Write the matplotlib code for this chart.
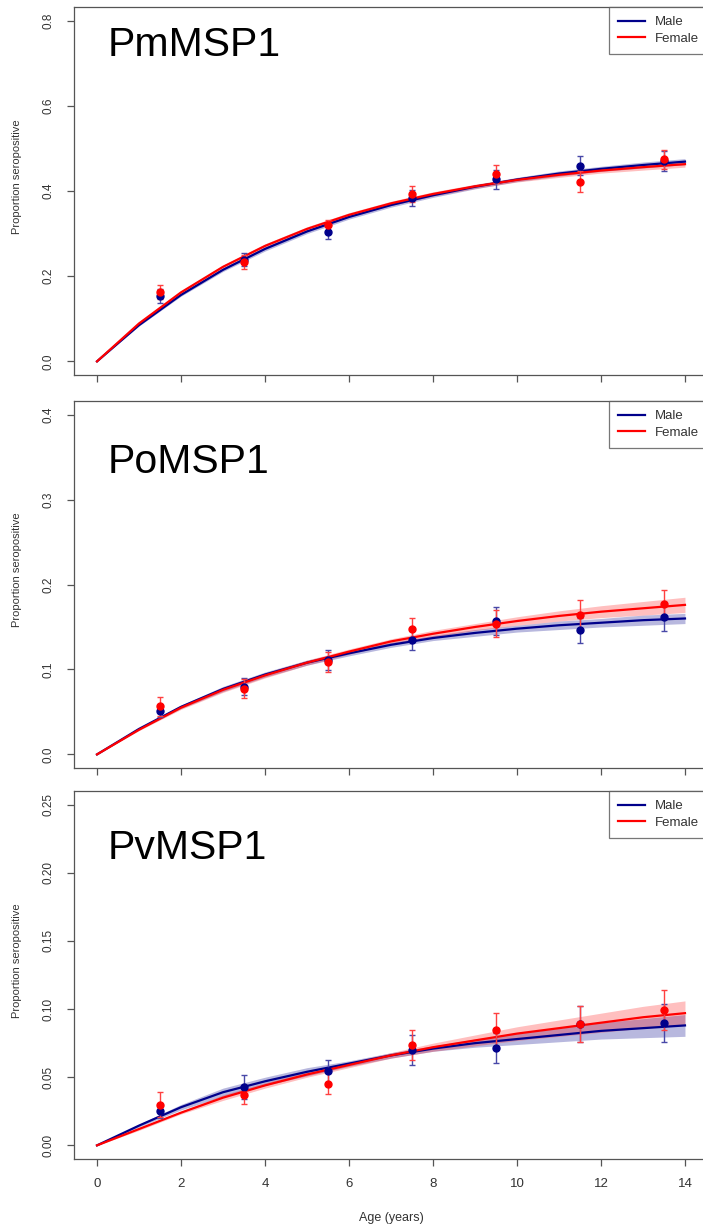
import numpy as np
import matplotlib
matplotlib.use("Agg")
from matplotlib import pyplot as plt

plt.rcParams['font.family'] = ['Liberation Sans', 'DejaVu Sans']

# ages of the binned data points and of the fitted curves
pt_age = [1.5, 3.5, 5.5, 7.5, 9.5, 11.5, 13.5]
fit_age = [0, 1, 2, 3, 4, 5, 6, 7, 8, 9, 10, 11, 12, 13, 14]

# PmMSP1
pm_male_pts = [0.153, 0.239, 0.304, 0.384, 0.427, 0.459, 0.470]
pm_female_pts = [0.163, 0.233, 0.319, 0.392, 0.440, 0.422, 0.474]
pm_male_err = [0.017, 0.016, 0.016, 0.019, 0.022, 0.022, 0.024]
pm_female_err = [0.016, 0.016, 0.014, 0.019, 0.022, 0.024, 0.023]
pm_male_fit = [0, 0.085, 0.156, 0.215, 0.264, 0.305, 0.339, 0.367, 0.390, 0.410, 0.427, 0.441, 0.452, 0.461, 0.469]
pm_female_fit = [0, 0.089, 0.162, 0.222, 0.271, 0.311, 0.344, 0.371, 0.393, 0.411, 0.426, 0.438, 0.448, 0.456, 0.463]
pm_male_band = [0, 0.002, 0.003, 0.004, 0.005, 0.005, 0.005, 0.005, 0.005, 0.005, 0.005, 0.006, 0.006, 0.007, 0.007]
pm_female_band = [0, 0.002, 0.003, 0.004, 0.005, 0.005, 0.005, 0.005, 0.005, 0.005, 0.005, 0.006, 0.006, 0.007, 0.007]

# PoMSP1
po_male_pts = [0.051, 0.0795, 0.111, 0.135, 0.157, 0.146, 0.162]
po_female_pts = [0.0567, 0.0775, 0.109, 0.1475, 0.154, 0.164, 0.1766]
po_male_err = [0.007, 0.010, 0.012, 0.012, 0.016, 0.015, 0.017]
po_female_err = [0.011, 0.011, 0.012, 0.0135, 0.016, 0.018, 0.0175]
po_male_fit = [0, 0.030, 0.056, 0.077, 0.094, 0.108, 0.119, 0.129, 0.137, 0.143, 0.148, 0.152, 0.155, 0.158, 0.160]
po_female_fit = [0, 0.029, 0.055, 0.076, 0.093, 0.108, 0.121, 0.133, 0.142, 0.150, 0.157, 0.163, 0.168, 0.172, 0.176]
po_male_band = [0, 0.001, 0.002, 0.003, 0.003, 0.003, 0.003, 0.003, 0.003, 0.004, 0.004, 0.005, 0.005, 0.006, 0.006]
po_female_band = [0, 0.001, 0.002, 0.003, 0.003, 0.003, 0.003, 0.003, 0.004, 0.004, 0.005, 0.006, 0.007, 0.008, 0.009]

# PvMSP1
pv_male_pts = [0.025, 0.0429, 0.0544, 0.0699, 0.0716, 0.089, 0.090]
pv_female_pts = [0.0299, 0.0373, 0.0453, 0.0735, 0.085, 0.089, 0.0993]
pv_male_err = [0.005, 0.0086, 0.0086, 0.011, 0.011, 0.013, 0.014]
pv_female_err = [0.009, 0.0073, 0.0078, 0.011, 0.012, 0.013, 0.015]
pv_male_fit = [0, 0.0145, 0.028, 0.039, 0.047, 0.054, 0.060, 0.066, 0.071, 0.075, 0.078, 0.081, 0.084, 0.086, 0.088]
pv_female_fit = [0, 0.012, 0.024, 0.035, 0.044, 0.052, 0.059, 0.066, 0.072, 0.077, 0.082, 0.086, 0.090, 0.094, 0.097]
pv_male_band = [0, 0.001, 0.002, 0.003, 0.003, 0.003, 0.002, 0.002, 0.002, 0.003, 0.004, 0.005, 0.006, 0.007, 0.008]
pv_female_band = [0, 0.001, 0.001, 0.002, 0.002, 0.002, 0.002, 0.002, 0.003, 0.004, 0.005, 0.006, 0.007, 0.008, 0.009]

titles = ["PmMSP1", "PoMSP1", "PvMSP1"]
yticks = [[0, 0.2, 0.4, 0.6, 0.8], [0, 0.1, 0.2, 0.3, 0.4], [0, 0.05, 0.10, 0.15, 0.20, 0.25]]
ytick_labels = [["0.0", "0.2", "0.4", "0.6", "0.8"],
                ["0.0", "0.1", "0.2", "0.3", "0.4"],
                ["0.00", "0.05", "0.10", "0.15", "0.20", "0.25"]]
xticks = [0, 2, 4, 6, 8, 10, 12, 14]

panels = [
    (pm_male_pts, pm_female_pts, pm_male_err, pm_female_err, pm_male_fit, pm_female_fit, pm_male_band, pm_female_band),
    (po_male_pts, po_female_pts, po_male_err, po_female_err, po_male_fit, po_female_fit, po_male_band, po_female_band),
    (pv_male_pts, pv_female_pts, pv_male_err, pv_female_err, pv_male_fit, pv_female_fit, pv_male_band, pv_female_band),
]

male_col = "#00008B"
female_col = "#FF0000"
grey = "#555555"

W, H = 703, 1228
fig = plt.figure(figsize=(W / 100, H / 100), dpi=100)

# panel frames in pixels (top, bottom); the right side runs past the crop
frames = [(7, 375), (401, 768), (791, 1159)]
title_y = [45, 462, 848]
left_px, right_px = 73.5, 708.5

for i, (top, bot) in enumerate(frames):
    ax = fig.add_axes([left_px / W, 1 - bot / H, (right_px - left_px) / W, (bot - top) / H])
    mp, fp, me, fe, mf, ff, mb, fb = panels[i]
    mf = np.array(mf); ff = np.array(ff); mb = np.array(mb); fb = np.array(fb)

    ax.fill_between(fit_age, mf - mb, mf + mb, color=male_col, alpha=0.28, lw=0)
    ax.fill_between(fit_age, ff - fb, ff + fb, color=female_col, alpha=0.25, lw=0)
    ax.plot(fit_age, mf, color=male_col, lw=1.6, label="Male")
    ax.plot(fit_age, ff, color=female_col, lw=1.6, label="Female")

    ax.errorbar(pt_age, mp, yerr=me, fmt="o", color=male_col, ecolor="#4848a8",
                ms=5, elinewidth=1, capsize=2.5, capthick=1)
    ax.errorbar(pt_age, fp, yerr=fe, fmt="o", color=female_col, ecolor="#ff4040",
                ms=5, elinewidth=1, capsize=2.5, capthick=1)

    ymax = yticks[i][-1]
    ax.set_ylim(-0.04 * ymax, 1.04 * ymax)
    ax.set_xlim(-0.56, 14.56)
    ax.set_yticks(yticks[i])
    ax.set_yticklabels(ytick_labels[i])
    ax.set_xticks(xticks)
    if i == 2:
        ax.set_xticklabels([str(x) for x in xticks])
        ax.set_xlabel("Age (years)", fontsize=9, color="#333333")
        ax.xaxis.set_label_coords(0.5, -59 / (bot - top))
        ax.xaxis.label.set_va("center")
    else:
        ax.set_xticklabels([])

    ax.tick_params(direction="out", length=5, width=0.9, color=grey,
                   labelcolor="#333333", labelsize=8.5, pad=9)
    ax.tick_params(axis="x", labelsize=9.5)
    for t in ax.get_yticklabels():
        t.set_rotation(90)
        t.set_va("center")
    for s in ax.spines.values():
        s.set_color(grey)
        s.set_linewidth(0.9)

    ax.set_ylabel("Proportion seropositive", fontsize=8, color="#333333")
    ax.yaxis.set_label_coords((17.5 - left_px) / (right_px - left_px), 0.54)
    ax.yaxis.label.set_va("center")

    ax.text((108 - left_px) / (right_px - left_px), 1 - (title_y[i] - top) / (bot - top),
            titles[i], transform=ax.transAxes, fontsize=29.5, va="center", ha="left", color="black")

    leg = ax.legend(loc="upper right", bbox_to_anchor=(1, 1), borderaxespad=0,
                    fancybox=False, edgecolor=grey, fontsize=9.5, handlelength=2.0,
                    handletextpad=0.8, labelspacing=0.3, borderpad=0.7)
    leg.get_frame().set_linewidth(0.9)
    for t in leg.get_texts():
        t.set_color("#333333")

fig.savefig("out.png", dpi=100)
